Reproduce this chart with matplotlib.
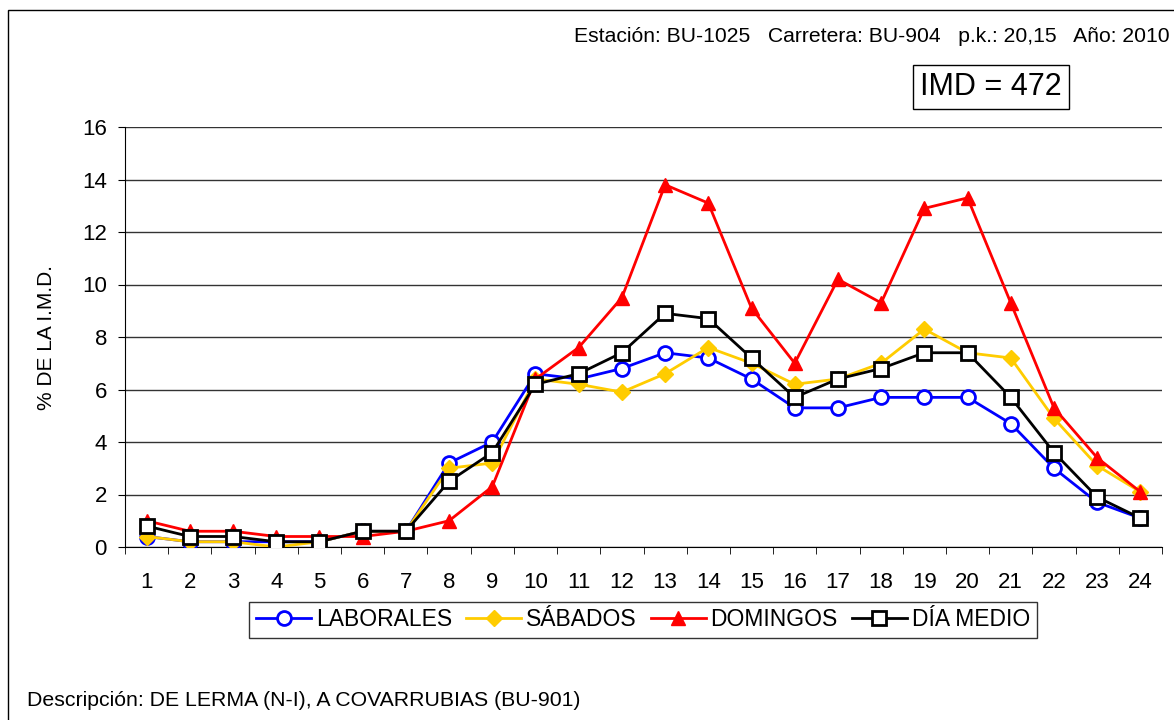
import matplotlib
matplotlib.use('Agg')
import matplotlib.pyplot as plt
from matplotlib.patches import Rectangle

plt.rcParams['font.family'] = ['Liberation Sans', 'DejaVu Sans']

horas = list(range(1, 25))
laborales = [0.4, 0.2, 0.2, 0.2, 0.2, 0.6, 0.6, 3.2, 4.0, 6.6, 6.4, 6.8,
             7.4, 7.2, 6.4, 5.3, 5.3, 5.7, 5.7, 5.7, 4.7, 3.0, 1.7, 1.1]
sabados = [0.4, 0.2, 0.2, 0.0, 0.2, 0.6, 0.6, 3.0, 3.2, 6.4, 6.2, 5.9,
           6.6, 7.6, 7.0, 6.2, 6.4, 7.0, 8.3, 7.4, 7.2, 4.9, 3.1, 2.1]
domingos = [1.0, 0.6, 0.6, 0.4, 0.4, 0.4, 0.6, 1.0, 2.3, 6.4, 7.6, 9.5,
            13.8, 13.1, 9.1, 7.0, 10.2, 9.3, 12.9, 13.3, 9.3, 5.3, 3.4, 2.1]
dia_medio = [0.8, 0.4, 0.4, 0.2, 0.2, 0.6, 0.6, 2.5, 3.6, 6.2, 6.6, 7.4,
             8.9, 8.7, 7.2, 5.7, 6.4, 6.8, 7.4, 7.4, 5.7, 3.6, 1.9, 1.1]

estacion = 'Estación: BU-1025   Carretera: BU-904   p.k.: 20,15   Año: 2010'
imd = 472
descripcion = 'Descripción: DE LERMA (N-I), A COVARRUBIAS (BU-901)'

W, H = 1174, 720
fig = plt.figure(figsize=(W / 100, H / 100), dpi=100)
ax = fig.add_axes([125 / W, 1 - 547 / H, (1162 - 125) / W, (547 - 127) / H])

# marco exterior
fig.patches.append(Rectangle((8 / W, -0.01), 1.02, 1 - 10 / H + 0.01,
                             transform=fig.transFigure, fill=False,
                             edgecolor='black', linewidth=1))

ax.plot(horas, laborales, color='#0000FF', lw=2, marker='o', ms=10,
        mfc='white', mec='#0000FF', mew=2, label='LABORALES', zorder=3)
ax.plot(horas, sabados, color='#FFCC00', lw=2, marker='D', ms=8.5,
        mfc='#FFCC00', mec='#FFCC00', label='SÁBADOS', zorder=3)
ax.plot(horas, domingos, color='#FF0000', lw=2, marker='^', ms=10.5,
        mfc='#FF0000', mec='#FF0000', label='DOMINGOS', zorder=3)
ax.plot(horas, dia_medio, color='black', lw=2, marker='s', ms=10.5,
        mfc='white', mec='black', mew=2, label='DÍA MEDIO', zorder=4)

ax.set_xlim(0.5, 24.5)
ax.set_ylim(0, 16)
ax.set_yticks(range(0, 17, 2))
ax.set_xticks(horas)
ax.set_xticks([h + 0.5 for h in range(0, 25)], minor=True)
ax.tick_params(axis='x', which='major', length=0, labelsize=16, pad=18)
ax.tick_params(axis='x', which='minor', length=5, direction='out')
ax.tick_params(axis='y', labelsize=16, length=5, pad=8, direction='out')
ax.grid(axis='y', color='#333333', lw=1)
ax.set_axisbelow(True)
for s in ['top', 'right']:
    ax.spines[s].set_visible(False)
ax.set_ylabel('% DE LA I.M.D.', fontsize=15)
ax.yaxis.set_label_coords((56 - 125) / (1162 - 125), 0.5)

leg = fig.legend(loc='center', bbox_to_anchor=(643 / W, 1 - 620 / H), ncol=4,
                 fontsize=16.5, frameon=True, fancybox=False, edgecolor='black',
                 handlelength=2.4, handletextpad=0.22, columnspacing=0.6,
                 borderpad=0.3, borderaxespad=0)
leg.get_frame().set_linewidth(1)

fig.text(1170 / W, 1 - 37 / H, estacion, ha='right', va='center', fontsize=15.2)
fig.text(991 / W, 1 - 87 / H, 'IMD = {}'.format(imd), ha='center', va='center',
         fontsize=22, bbox=dict(boxstyle='square,pad=0.22', fc='white', ec='black', lw=1))
fig.text(27 / W, 1 - 700 / H, descripcion, ha='left', va='center', fontsize=15.3)

fig.savefig('out.png', dpi=100)
